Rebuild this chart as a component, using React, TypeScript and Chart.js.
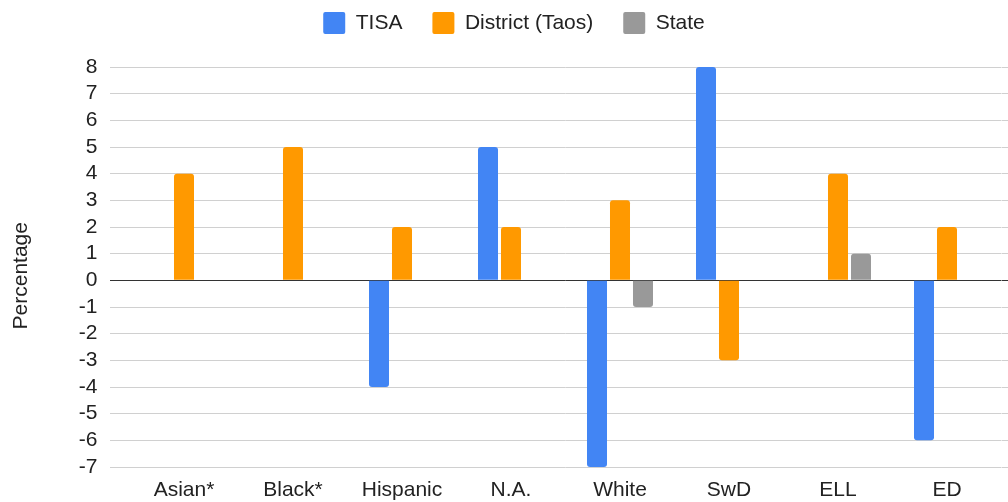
import React, { useEffect, useRef } from "react";
import { Chart, registerables } from "chart.js";

Chart.register(...registerables);

const categories = ["Asian*", "Black*", "Hispanic", "N.A.", "White", "SwD", "ELL", "ED"];
const tisaValues = [null, null, -4, 5, -7, 8, null, -6];
const districtValues = [4, 5, 2, 2, 3, -3, 4, 2];
const stateValues = [null, null, null, null, -1, null, 1, null];
const seriesNames = ["TISA", "District (Taos)", "State"];
const seriesColors = ["#4285F4", "#FF9900", "#999999"];
const yMin = -7;
const yMax = 8;
const yTitle = "Percentage";

const FONT = "'Liberation Sans', Arial, sans-serif";
const TEXT = "#222222";
const GRID = "#d0d0d0";
const ZERO = "#333333";

const legendHeightPlugin = {
  id: "legendHeight",
  afterInit(chart: any) {
    const legend = chart.legend;
    if (!legend) return;
    const orig = legend.fit;
    legend.fit = function () {
      orig.call(this);
      this.height = 85;
    };
  },
};

export default function App() {
  const ref = useRef<HTMLCanvasElement | null>(null);

  useEffect(() => {
    document.body.style.margin = "0";
    const canvas = ref.current;
    if (!canvas) return;
    const gridColor = (ctx: any) => (ctx.tick && ctx.tick.value === 0 ? ZERO : GRID);
    const chart = new Chart(canvas, {
      type: "bar",
      data: {
        labels: categories,
        datasets: [tisaValues, districtValues, stateValues].map((vals, i) => ({
          label: seriesNames[i],
          data: vals as any,
          backgroundColor: seriesColors[i],
          borderColor: seriesColors[i],
          borderWidth: 0,
          borderRadius: 3,
          barPercentage: 0.87,
          categoryPercentage: 0.633,
        })),
      },
      options: {
        animation: false,
        responsive: false,
        devicePixelRatio: 1,
        layout: { padding: { top: -18, left: 20, right: 0, bottom: 2 } },
        plugins: {
          legend: {
            position: "top",
            align: "center",
            labels: {
              boxWidth: 22,
              boxHeight: 22,
              padding: 30,
              color: TEXT,
              useBorderRadius: true,
              borderRadius: 2,
              font: { family: FONT, size: 21 },
            },
          },
          tooltip: { enabled: false },
        },
        scales: {
          x: {
            afterFit: (s: any) => {
              s.height = 33;
            },
            grid: { display: false, drawTicks: false },
            border: { display: false },
            ticks: {
              color: TEXT,
              padding: 11,
              maxRotation: 0,
              autoSkip: false,
              font: { family: FONT, size: 21 },
            },
          },
          y: {
            min: yMin,
            max: yMax,
            position: "left",
            afterFit: (s: any) => {
              s.width = 109.5;
            },
            ticks: {
              stepSize: 1,
              autoSkip: false,
              color: TEXT,
              padding: 12.5,
              font: { family: FONT, size: 21 },
            },
            grid: {
              color: gridColor,
              tickColor: gridColor,
              tickLength: 19.5,
              lineWidth: 1,
            },
            border: { display: false },
            title: {
              display: true,
              text: yTitle + "   ",
              color: TEXT,
              padding: { top: -11.6, bottom: 0 },
              font: { family: FONT, size: 21 },
            },
          },
          y2: {
            min: yMin,
            max: yMax,
            position: "right",
            afterFit: (s: any) => {
              s.width = 6.5;
            },
            ticks: { stepSize: 1, autoSkip: false, display: false },
            grid: {
              drawOnChartArea: false,
              color: gridColor,
              tickColor: gridColor,
              tickLength: 6.5,
              lineWidth: 1,
            },
            border: { display: false },
          },
        },
      },
      plugins: [legendHeightPlugin],
    });
    return () => chart.destroy();
  }, []);

  return (
    <div style={{ width: 1008, height: 502 }}>
      <canvas ref={ref} width={1008} height={502} style={{ display: "block" }} />
    </div>
  );
}
